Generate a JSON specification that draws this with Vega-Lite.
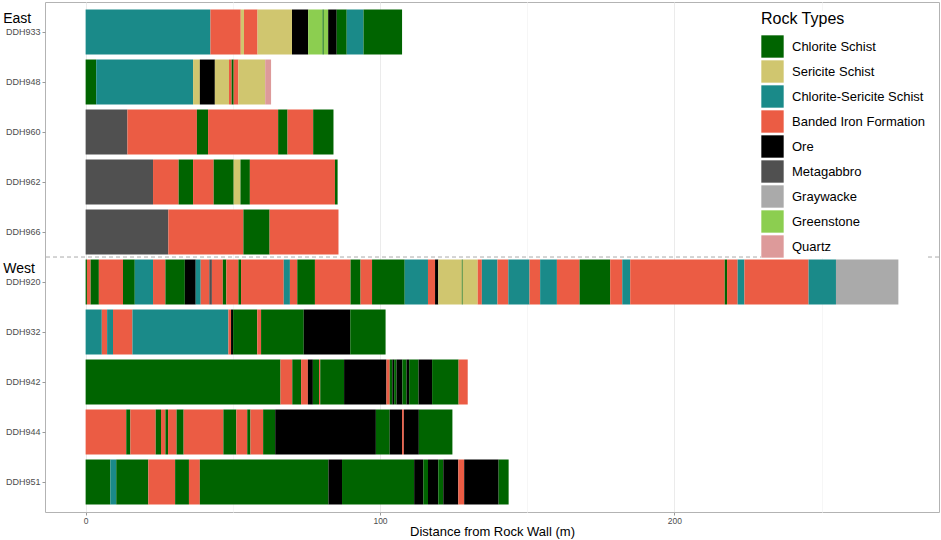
{
  "$schema": "https://vega.github.io/schema/vega-lite/v6.json",
  "width": 894,
  "height": 510,
  "padding": {"left": 3, "top": 2, "right": 2, "bottom": 2},
  "config": {
    "font": "Liberation Sans",
    "view": {"stroke": "#b3b3b3", "strokeWidth": 1}
  },
  "datasets": {
    "logs": [
      {"hole": "DDH933", "from": 0, "to": 42.4, "rock": "Chlorite-Sericite Schist"},
      {"hole": "DDH933", "from": 42.4, "to": 52.7, "rock": "Banded Iron Formation"},
      {"hole": "DDH933", "from": 52.7, "to": 53.8, "rock": "Sericite Schist"},
      {"hole": "DDH933", "from": 53.8, "to": 58.4, "rock": "Banded Iron Formation"},
      {"hole": "DDH933", "from": 58.4, "to": 70.1, "rock": "Sericite Schist"},
      {"hole": "DDH933", "from": 70.1, "to": 75.6, "rock": "Ore"},
      {"hole": "DDH933", "from": 75.6, "to": 80.5, "rock": "Greenstone"},
      {"hole": "DDH933", "from": 80.5, "to": 80.9, "rock": "Chlorite Schist"},
      {"hole": "DDH933", "from": 80.9, "to": 82.4, "rock": "Greenstone"},
      {"hole": "DDH933", "from": 82.4, "to": 85.3, "rock": "Ore"},
      {"hole": "DDH933", "from": 85.3, "to": 88.7, "rock": "Chlorite Schist"},
      {"hole": "DDH933", "from": 88.7, "to": 94.4, "rock": "Chlorite-Sericite Schist"},
      {"hole": "DDH933", "from": 94.4, "to": 107.5, "rock": "Chlorite Schist"},

      {"hole": "DDH948", "from": 0, "to": 3.6, "rock": "Chlorite Schist"},
      {"hole": "DDH948", "from": 3.6, "to": 36.5, "rock": "Chlorite-Sericite Schist"},
      {"hole": "DDH948", "from": 36.5, "to": 38.8, "rock": "Sericite Schist"},
      {"hole": "DDH948", "from": 38.8, "to": 43.9, "rock": "Ore"},
      {"hole": "DDH948", "from": 43.9, "to": 48.7, "rock": "Sericite Schist"},
      {"hole": "DDH948", "from": 48.7, "to": 49.6, "rock": "Banded Iron Formation"},
      {"hole": "DDH948", "from": 49.6, "to": 50.3, "rock": "Chlorite Schist"},
      {"hole": "DDH948", "from": 50.3, "to": 51.9, "rock": "Banded Iron Formation"},
      {"hole": "DDH948", "from": 51.9, "to": 61.0, "rock": "Sericite Schist"},
      {"hole": "DDH948", "from": 61.0, "to": 63.0, "rock": "Quartz"},

      {"hole": "DDH960", "from": 0, "to": 14.2, "rock": "Metagabbro"},
      {"hole": "DDH960", "from": 14.2, "to": 37.8, "rock": "Banded Iron Formation"},
      {"hole": "DDH960", "from": 37.8, "to": 41.6, "rock": "Chlorite Schist"},
      {"hole": "DDH960", "from": 41.6, "to": 65.4, "rock": "Banded Iron Formation"},
      {"hole": "DDH960", "from": 65.4, "to": 68.6, "rock": "Chlorite Schist"},
      {"hole": "DDH960", "from": 68.6, "to": 77.3, "rock": "Banded Iron Formation"},
      {"hole": "DDH960", "from": 77.3, "to": 84.2, "rock": "Chlorite Schist"},

      {"hole": "DDH962", "from": 0, "to": 22.9, "rock": "Metagabbro"},
      {"hole": "DDH962", "from": 22.9, "to": 31.6, "rock": "Banded Iron Formation"},
      {"hole": "DDH962", "from": 31.6, "to": 36.5, "rock": "Chlorite Schist"},
      {"hole": "DDH962", "from": 36.5, "to": 43.5, "rock": "Banded Iron Formation"},
      {"hole": "DDH962", "from": 43.5, "to": 50.3, "rock": "Chlorite Schist"},
      {"hole": "DDH962", "from": 50.3, "to": 52.6, "rock": "Sericite Schist"},
      {"hole": "DDH962", "from": 52.6, "to": 55.8, "rock": "Chlorite Schist"},
      {"hole": "DDH962", "from": 55.8, "to": 84.7, "rock": "Banded Iron Formation"},
      {"hole": "DDH962", "from": 84.7, "to": 85.6, "rock": "Chlorite Schist"},

      {"hole": "DDH966", "from": 0, "to": 28.1, "rock": "Metagabbro"},
      {"hole": "DDH966", "from": 28.1, "to": 53.6, "rock": "Banded Iron Formation"},
      {"hole": "DDH966", "from": 53.6, "to": 62.5, "rock": "Chlorite Schist"},
      {"hole": "DDH966", "from": 62.5, "to": 85.9, "rock": "Banded Iron Formation"},

      {"hole": "DDH920", "from": 0, "to": 0.45, "rock": "Chlorite Schist"},
      {"hole": "DDH920", "from": 0.45, "to": 1.7, "rock": "Banded Iron Formation"},
      {"hole": "DDH920", "from": 1.7, "to": 4.5, "rock": "Chlorite Schist"},
      {"hole": "DDH920", "from": 4.5, "to": 12.7, "rock": "Banded Iron Formation"},
      {"hole": "DDH920", "from": 12.7, "to": 16.7, "rock": "Chlorite Schist"},
      {"hole": "DDH920", "from": 16.7, "to": 22.9, "rock": "Chlorite-Sericite Schist"},
      {"hole": "DDH920", "from": 22.9, "to": 27.1, "rock": "Banded Iron Formation"},
      {"hole": "DDH920", "from": 27.1, "to": 33.7, "rock": "Chlorite Schist"},
      {"hole": "DDH920", "from": 33.7, "to": 37.4, "rock": "Ore"},
      {"hole": "DDH920", "from": 37.4, "to": 39.1, "rock": "Chlorite-Sericite Schist"},
      {"hole": "DDH920", "from": 39.1, "to": 42.0, "rock": "Banded Iron Formation"},
      {"hole": "DDH920", "from": 42.0, "to": 42.9, "rock": "Metagabbro"},
      {"hole": "DDH920", "from": 42.9, "to": 46.6, "rock": "Banded Iron Formation"},
      {"hole": "DDH920", "from": 46.6, "to": 47.8, "rock": "Chlorite Schist"},
      {"hole": "DDH920", "from": 47.8, "to": 51.9, "rock": "Banded Iron Formation"},
      {"hole": "DDH920", "from": 51.9, "to": 52.8, "rock": "Chlorite Schist"},
      {"hole": "DDH920", "from": 52.8, "to": 67.3, "rock": "Banded Iron Formation"},
      {"hole": "DDH920", "from": 67.3, "to": 69.4, "rock": "Chlorite-Sericite Schist"},
      {"hole": "DDH920", "from": 69.4, "to": 71.9, "rock": "Banded Iron Formation"},
      {"hole": "DDH920", "from": 71.9, "to": 77.9, "rock": "Chlorite Schist"},
      {"hole": "DDH920", "from": 77.9, "to": 90.0, "rock": "Banded Iron Formation"},
      {"hole": "DDH920", "from": 90.0, "to": 93.4, "rock": "Chlorite Schist"},
      {"hole": "DDH920", "from": 93.4, "to": 97.3, "rock": "Banded Iron Formation"},
      {"hole": "DDH920", "from": 97.3, "to": 108.4, "rock": "Chlorite Schist"},
      {"hole": "DDH920", "from": 108.4, "to": 116.3, "rock": "Chlorite-Sericite Schist"},
      {"hole": "DDH920", "from": 116.3, "to": 118.7, "rock": "Banded Iron Formation"},
      {"hole": "DDH920", "from": 118.7, "to": 119.8, "rock": "Ore"},
      {"hole": "DDH920", "from": 119.8, "to": 127.8, "rock": "Sericite Schist"},
      {"hole": "DDH920", "from": 127.8, "to": 128.1, "rock": "Chlorite Schist"},
      {"hole": "DDH920", "from": 128.1, "to": 133.2, "rock": "Sericite Schist"},
      {"hole": "DDH920", "from": 133.2, "to": 134.6, "rock": "Banded Iron Formation"},
      {"hole": "DDH920", "from": 134.6, "to": 139.9, "rock": "Chlorite-Sericite Schist"},
      {"hole": "DDH920", "from": 139.9, "to": 143.6, "rock": "Banded Iron Formation"},
      {"hole": "DDH920", "from": 143.6, "to": 150.8, "rock": "Chlorite-Sericite Schist"},
      {"hole": "DDH920", "from": 150.8, "to": 154.4, "rock": "Banded Iron Formation"},
      {"hole": "DDH920", "from": 154.4, "to": 160.1, "rock": "Chlorite-Sericite Schist"},
      {"hole": "DDH920", "from": 160.1, "to": 167.8, "rock": "Banded Iron Formation"},
      {"hole": "DDH920", "from": 167.8, "to": 178.2, "rock": "Chlorite Schist"},
      {"hole": "DDH920", "from": 178.2, "to": 182.3, "rock": "Banded Iron Formation"},
      {"hole": "DDH920", "from": 182.3, "to": 185.0, "rock": "Chlorite-Sericite Schist"},
      {"hole": "DDH920", "from": 185.0, "to": 217.1, "rock": "Banded Iron Formation"},
      {"hole": "DDH920", "from": 217.1, "to": 217.9, "rock": "Chlorite Schist"},
      {"hole": "DDH920", "from": 217.9, "to": 221.5, "rock": "Banded Iron Formation"},
      {"hole": "DDH920", "from": 221.5, "to": 223.8, "rock": "Chlorite-Sericite Schist"},
      {"hole": "DDH920", "from": 223.8, "to": 245.6, "rock": "Banded Iron Formation"},
      {"hole": "DDH920", "from": 245.6, "to": 254.9, "rock": "Chlorite-Sericite Schist"},
      {"hole": "DDH920", "from": 254.9, "to": 276.1, "rock": "Graywacke"},

      {"hole": "DDH932", "from": 0, "to": 5.5, "rock": "Chlorite-Sericite Schist"},
      {"hole": "DDH932", "from": 5.5, "to": 7.3, "rock": "Banded Iron Formation"},
      {"hole": "DDH932", "from": 7.3, "to": 9.3, "rock": "Chlorite-Sericite Schist"},
      {"hole": "DDH932", "from": 9.3, "to": 15.9, "rock": "Banded Iron Formation"},
      {"hole": "DDH932", "from": 15.9, "to": 48.5, "rock": "Chlorite-Sericite Schist"},
      {"hole": "DDH932", "from": 48.5, "to": 49.4, "rock": "Banded Iron Formation"},
      {"hole": "DDH932", "from": 49.4, "to": 50.1, "rock": "Ore"},
      {"hole": "DDH932", "from": 50.1, "to": 58.3, "rock": "Chlorite Schist"},
      {"hole": "DDH932", "from": 58.3, "to": 59.6, "rock": "Banded Iron Formation"},
      {"hole": "DDH932", "from": 59.6, "to": 74.1, "rock": "Chlorite Schist"},
      {"hole": "DDH932", "from": 74.1, "to": 89.9, "rock": "Ore"},
      {"hole": "DDH932", "from": 89.9, "to": 101.9, "rock": "Chlorite Schist"},

      {"hole": "DDH942", "from": 0, "to": 66.2, "rock": "Chlorite Schist"},
      {"hole": "DDH942", "from": 66.2, "to": 70.2, "rock": "Banded Iron Formation"},
      {"hole": "DDH942", "from": 70.2, "to": 73.2, "rock": "Chlorite Schist"},
      {"hole": "DDH942", "from": 73.2, "to": 75.5, "rock": "Banded Iron Formation"},
      {"hole": "DDH942", "from": 75.5, "to": 77.2, "rock": "Ore"},
      {"hole": "DDH942", "from": 77.2, "to": 79.3, "rock": "Chlorite Schist"},
      {"hole": "DDH942", "from": 79.3, "to": 79.7, "rock": "Banded Iron Formation"},
      {"hole": "DDH942", "from": 79.7, "to": 87.8, "rock": "Chlorite Schist"},
      {"hole": "DDH942", "from": 87.8, "to": 102.2, "rock": "Ore"},
      {"hole": "DDH942", "from": 102.2, "to": 103.3, "rock": "Banded Iron Formation"},
      {"hole": "DDH942", "from": 103.3, "to": 104.2, "rock": "Chlorite Schist"},
      {"hole": "DDH942", "from": 104.2, "to": 104.8, "rock": "Ore"},
      {"hole": "DDH942", "from": 104.8, "to": 105.6, "rock": "Chlorite Schist"},
      {"hole": "DDH942", "from": 105.6, "to": 107.6, "rock": "Ore"},
      {"hole": "DDH942", "from": 107.6, "to": 109.0, "rock": "Chlorite Schist"},
      {"hole": "DDH942", "from": 109.0, "to": 109.9, "rock": "Ore"},
      {"hole": "DDH942", "from": 109.9, "to": 113.1, "rock": "Chlorite Schist"},
      {"hole": "DDH942", "from": 113.1, "to": 117.7, "rock": "Ore"},
      {"hole": "DDH942", "from": 117.7, "to": 126.7, "rock": "Chlorite Schist"},
      {"hole": "DDH942", "from": 126.7, "to": 129.8, "rock": "Banded Iron Formation"},

      {"hole": "DDH944", "from": 0, "to": 13.8, "rock": "Banded Iron Formation"},
      {"hole": "DDH944", "from": 13.8, "to": 15.2, "rock": "Chlorite Schist"},
      {"hole": "DDH944", "from": 15.2, "to": 23.8, "rock": "Banded Iron Formation"},
      {"hole": "DDH944", "from": 23.8, "to": 25.6, "rock": "Chlorite Schist"},
      {"hole": "DDH944", "from": 25.6, "to": 27.1, "rock": "Banded Iron Formation"},
      {"hole": "DDH944", "from": 27.1, "to": 28.0, "rock": "Chlorite Schist"},
      {"hole": "DDH944", "from": 28.0, "to": 30.9, "rock": "Banded Iron Formation"},
      {"hole": "DDH944", "from": 30.9, "to": 33.3, "rock": "Chlorite Schist"},
      {"hole": "DDH944", "from": 33.3, "to": 46.8, "rock": "Banded Iron Formation"},
      {"hole": "DDH944", "from": 46.8, "to": 51.2, "rock": "Chlorite Schist"},
      {"hole": "DDH944", "from": 51.2, "to": 54.9, "rock": "Banded Iron Formation"},
      {"hole": "DDH944", "from": 54.9, "to": 56.0, "rock": "Chlorite Schist"},
      {"hole": "DDH944", "from": 56.0, "to": 60.3, "rock": "Banded Iron Formation"},
      {"hole": "DDH944", "from": 60.3, "to": 64.4, "rock": "Chlorite Schist"},
      {"hole": "DDH944", "from": 64.4, "to": 98.6, "rock": "Ore"},
      {"hole": "DDH944", "from": 98.6, "to": 103.3, "rock": "Chlorite Schist"},
      {"hole": "DDH944", "from": 103.3, "to": 107.5, "rock": "Ore"},
      {"hole": "DDH944", "from": 107.5, "to": 108.1, "rock": "Banded Iron Formation"},
      {"hole": "DDH944", "from": 108.1, "to": 113.2, "rock": "Ore"},
      {"hole": "DDH944", "from": 113.2, "to": 124.6, "rock": "Chlorite Schist"},

      {"hole": "DDH951", "from": 0, "to": 8.4, "rock": "Chlorite Schist"},
      {"hole": "DDH951", "from": 8.4, "to": 10.4, "rock": "Chlorite-Sericite Schist"},
      {"hole": "DDH951", "from": 10.4, "to": 21.3, "rock": "Chlorite Schist"},
      {"hole": "DDH951", "from": 21.3, "to": 30.4, "rock": "Banded Iron Formation"},
      {"hole": "DDH951", "from": 30.4, "to": 35.1, "rock": "Chlorite Schist"},
      {"hole": "DDH951", "from": 35.1, "to": 38.8, "rock": "Banded Iron Formation"},
      {"hole": "DDH951", "from": 38.8, "to": 82.5, "rock": "Chlorite Schist"},
      {"hole": "DDH951", "from": 82.5, "to": 87.1, "rock": "Ore"},
      {"hole": "DDH951", "from": 87.1, "to": 111.6, "rock": "Chlorite Schist"},
      {"hole": "DDH951", "from": 111.6, "to": 114.7, "rock": "Ore"},
      {"hole": "DDH951", "from": 114.7, "to": 116.3, "rock": "Chlorite Schist"},
      {"hole": "DDH951", "from": 116.3, "to": 119.8, "rock": "Ore"},
      {"hole": "DDH951", "from": 119.8, "to": 121.5, "rock": "Chlorite Schist"},
      {"hole": "DDH951", "from": 121.5, "to": 126.6, "rock": "Ore"},
      {"hole": "DDH951", "from": 126.6, "to": 128.6, "rock": "Banded Iron Formation"},
      {"hole": "DDH951", "from": 128.6, "to": 140.3, "rock": "Ore"},
      {"hole": "DDH951", "from": 140.3, "to": 143.7, "rock": "Chlorite Schist"}
    ],
    "groups": [
      {"hole": "DDH933", "label": "East"},
      {"hole": "DDH920", "label": "West"}
    ]
  },
  "encoding": {
    "y": {
      "field": "hole",
      "type": "nominal",
      "scale": {
        "domain": ["DDH933", "DDH948", "DDH960", "DDH962", "DDH966", "DDH920", "DDH932", "DDH942", "DDH944", "DDH951"],
        "paddingInner": 0.1,
        "paddingOuter": 0.15
      },
      "axis": {
        "title": null,
        "domain": false,
        "labelFontSize": 9,
        "labelColor": "#4d4d4d",
        "labelPadding": 2,
        "tickSize": 3,
        "tickColor": "#9a9a9a",
        "gridColor": "#efefef"
      }
    }
  },
  "layer": [
    {
      "data": {"name": "logs"},
      "mark": {"type": "bar"},
      "encoding": {
        "x": {
          "field": "from",
          "type": "quantitative",
          "title": "Distance from Rock Wall (m)",
          "scale": {"domain": [-13.8, 289.9], "nice": false, "zero": false},
          "axis": {
            "values": [0, 50, 100, 150, 200, 250],
            "labelExpr": "datum.value % 100 === 0 ? datum.label : ''",
            "domain": false,
            "labelFontSize": 8.5,
            "labelColor": "#4d4d4d",
            "labelPadding": 1,
            "tickSize": 3,
            "tickColor": "#9a9a9a",
            "tickOpacity": {"condition": {"test": "datum.value % 100 === 0", "value": 1}, "value": 0},
            "gridColor": {"condition": {"test": "datum.value % 100 === 0", "value": "#ebebeb"}, "value": "#f6f6f6"},
            "titleFontSize": 13,
            "titleFontWeight": "normal",
            "titleColor": "#000000",
            "titlePadding": 1
          }
        },
        "x2": {"field": "to"},
        "color": {
          "field": "rock",
          "type": "nominal",
          "scale": {
            "domain": ["Chlorite Schist", "Sericite Schist", "Chlorite-Sericite Schist", "Banded Iron Formation", "Ore", "Metagabbro", "Graywacke", "Greenstone", "Quartz"],
            "range": ["#006400", "#d0c66f", "#1a8a89", "#eb5c44", "#000000", "#505050", "#aaaaaa", "#8cce50", "#dd9a9a"]
          },
          "legend": {
            "title": "Rock Types",
            "orient": "none",
            "legendX": 716,
            "legendY": 9,
            "fillColor": "white",
            "padding": 0,
            "titleFontSize": 16,
            "titleFontWeight": "normal",
            "titleColor": "#000000",
            "titlePadding": 8,
            "labelFontSize": 13,
            "labelColor": "#000000",
            "labelOffset": 8,
            "symbolType": "square",
            "symbolSize": 500,
            "symbolStrokeWidth": 0,
            "symbolOpacity": 1,
            "rowPadding": 2
          }
        }
      }
    },
    {
      "data": {"values": [{"hole": "DDH920"}]},
      "mark": {"type": "rule", "color": "#aaaaaa", "strokeWidth": 1, "strokeDash": [4, 3]},
      "encoding": {
        "y": {"field": "hole", "type": "nominal", "bandPosition": -0.055}
      }
    },
    {
      "data": {"name": "groups"},
      "mark": {"type": "text", "align": "left", "baseline": "alphabetic", "dy": -9, "fontSize": 14, "color": "#000000"},
      "encoding": {
        "x": {"datum": -28},
        "text": {"field": "label"}
      }
    }
  ]
}
